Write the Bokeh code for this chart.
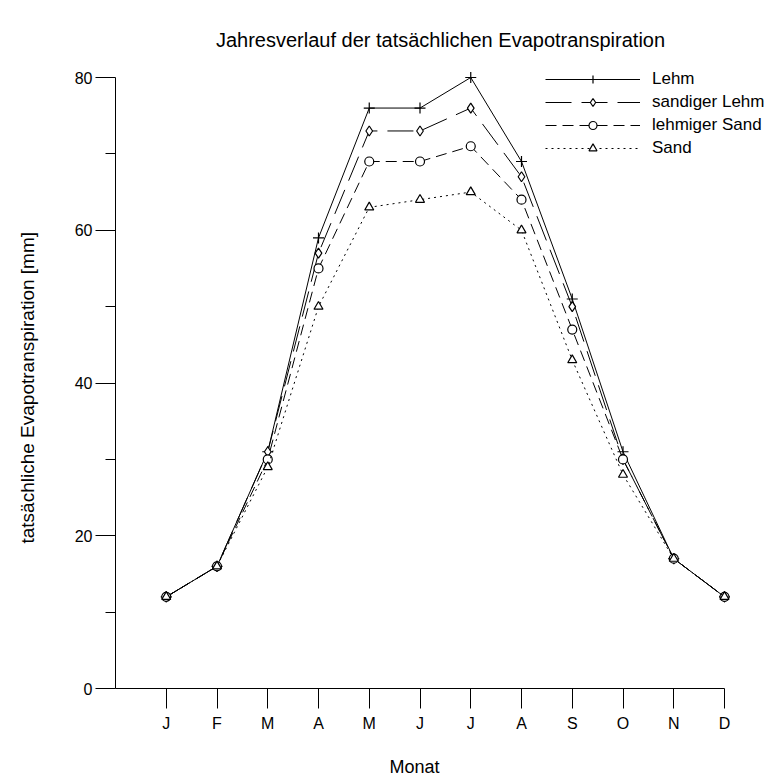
from bokeh.plotting import figure
from bokeh.models import FixedTicker, Range1d, Legend, LegendItem, Title
from bokeh.embed import file_html
from bokeh.resources import INLINE

months = ["J", "F", "M", "A", "M", "J", "J", "A", "S", "O", "N", "D"]
month_pos = list(range(1, 13))
lehm = [12, 16, 31, 59, 76, 76, 80, 69, 51, 31, 17, 12]
sandiger_lehm = [12, 16, 31, 57, 73, 73, 76, 67, 50, 30, 17, 12]
lehmiger_sand = [12, 16, 30, 55, 69, 69, 71, 64, 47, 30, 17, 12]
sand = [12, 16, 29, 50, 63, 64, 65, 60, 43, 28, 17, 12]
series_names = ["Lehm", "sandiger Lehm", "lehmiger Sand", "Sand"]

FONT = "Liberation Sans"

# frame spans x 115..765 and y 60..688; axes are bounded to 0..12 and 0..80
p = figure(width=765, height=776, output_backend="svg", toolbar_location=None,
           x_range=Range1d(0, 12 + 41 / 50.75), y_range=Range1d(0, 80 + 17 / 7.6375),
           min_border_left=115, min_border_right=0, min_border_top=60, min_border_bottom=88)
p.outline_line_color = None
p.xgrid.visible = False
p.ygrid.visible = False
p.background_fill_color = "white"
p.border_fill_color = "white"

p.title = Title(text="Jahresverlauf der tatsächlichen Evapotranspiration", align="center",
                text_font=FONT, text_font_size="20px", text_font_style="normal",
                text_color="black", standoff=20)

# axes
xa = p.xaxis[0]
xa.bounds = (0, 12)
xa.ticker = FixedTicker(ticks=month_pos, minor_ticks=[])
xa.major_label_overrides = {i + 1: m for i, m in enumerate(months)}
xa.major_tick_out = 20
xa.major_tick_in = 0
xa.minor_tick_out = 0
xa.major_label_standoff = 6

ya = p.yaxis[0]
ya.bounds = (0, 80)
ya.ticker = FixedTicker(ticks=[0, 20, 40, 60, 80], minor_ticks=[10, 30, 50, 70])
ya.major_tick_out = 20
ya.major_tick_in = 0
ya.minor_tick_out = 10
ya.minor_tick_in = 0
ya.major_label_standoff = 3

for ax in (xa, ya):
    ax.axis_line_color = "black"
    ax.major_tick_line_color = "black"
    ax.minor_tick_line_color = "black"
    ax.major_label_text_font = FONT
    ax.major_label_text_font_size = "16px"
    ax.major_label_text_color = "black"

# axis titles as side titles so they can be positioned along the axes
# (an empty line pushes each title away from its axis)
xlabel = Title(text="\nMonat", align="left", offset=274, standoff=0, vertical_align="bottom",
               text_font=FONT, text_font_size="18px", text_font_style="normal",
               text_color="black")
p.add_layout(xlabel, "below")
ylabel = Title(text="tatsächliche Evapotranspiration [mm]\n", align="left", offset=145, standoff=26,
               vertical_align="bottom",
               text_font=FONT, text_font_size="19px", text_font_style="normal",
               text_color="black")
p.add_layout(ylabel, "left")

data = [lehm, sandiger_lehm, lehmiger_sand, sand]
dashes = ["solid", "26 10", "11 6", "2 4"]
markers = ["cross", "diamond", "circle", "triangle"]
sizes = [11, 10, 9, 9]

items = []
for name, vals, dash, mk, sz in zip(series_names, data, dashes, markers, sizes):
    lr = p.line(month_pos, vals, line_color="black", line_width=1, line_dash=dash)
    sr = p.scatter(month_pos, vals, marker=mk, size=sz, fill_color="white",
                   line_color="black", line_width=1.2)
    items.append(LegendItem(label=name, renderers=[lr, sr]))

legend = Legend(items=items, location=(430, 530), glyph_width=95, glyph_height=20,
                label_height=20, spacing=3, padding=0, margin=0,
                border_line_color=None, background_fill_alpha=0,
                label_text_font=FONT, label_text_font_size="17px",
                label_text_color="black", label_standoff=12)
p.add_layout(legend, "center")

open("out.html", "w").write(file_html(p, INLINE))
